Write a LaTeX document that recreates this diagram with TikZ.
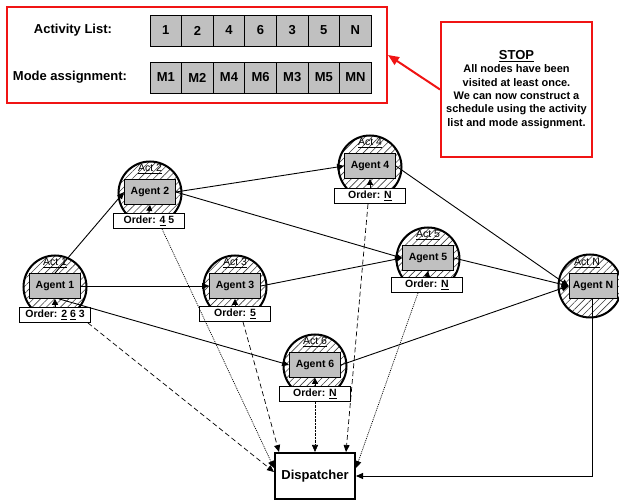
\documentclass[tikz,border=0pt]{standalone}
\usepackage{fontspec}
\setmainfont{Liberation Sans}
\usetikzlibrary{arrows.meta,patterns.meta}
\definecolor{agentgray}{RGB}{192,192,192}
\definecolor{stopred}{RGB}{240,20,20}
\begin{document}
\begin{tikzpicture}[x=1pt,y=-1pt,
  agent/.style={draw, fill=agentgray, minimum width=51pt, minimum height=25pt, inner sep=0pt, line width=0.8pt, font=\bfseries\fontsize{10.5}{12}\selectfont},
  orderbox/.style={draw, fill=white, minimum width=71pt, minimum height=15pt, inner sep=0pt, line width=0.8pt, font=\bfseries\fontsize{10.5}{12}\selectfont},
  actcirc/.style={circle, draw, line width=2pt, minimum size=63pt, inner sep=0pt, pattern={Lines[angle=45,distance=5pt,line width=0.6pt]}, pattern color=black!75},
  actlbl/.style={inner sep=0pt, font=\fontsize{10.5}{12}\selectfont},
  cell/.style={draw, fill=agentgray, minimum width=31.6pt, minimum height=31pt, inner sep=0pt, line width=0.8pt, font=\bfseries\fontsize{13}{15}\selectfont},
  toplbl/.style={inner sep=0pt, font=\bfseries\fontsize{13}{15}\selectfont},
  conn/.style={line width=0.9pt, -{Triangle[length=7pt,width=6pt]}},
  dashconn/.style={line width=0.7pt, dash pattern=on 5pt off 3pt, -{Triangle[length=7pt,width=6pt]}},
  dotconn/.style={line width=0.7pt, dash pattern=on 1pt off 1pt, -{Triangle[length=7pt,width=6pt]}},
  ordarrow/.style={line width=0.8pt, -{Triangle[length=6pt,width=6pt]}}
]
\useasboundingbox (0,0) rectangle (619,502);

% top panel
\node[draw=stopred, line width=2pt, minimum width=380pt, minimum height=96pt, inner sep=0pt] (top) at (197,55) {};
\node[toplbl] (lblact) at (73,30) {Activity List:};
\node[toplbl] (lblmode) at (70,77) {Mode assignment:};
\foreach \t [count=\i from 0] in {1,2,4,6,3,5,N} {
  \node[cell] (al\i) at ({150+31.6*(\i+0.5)},30.5) {\t};
}
\foreach \t [count=\i from 0] in {M1,M2,M4,M6,M3,M5,MN} {
  \node[cell] (ma\i) at ({150+31.6*(\i+0.5)},77.5) {\t};
}

% stop box
\node[draw=stopred, line width=2pt, fill=white, minimum width=151pt, minimum height=135pt, inner sep=0pt, align=center,
  font=\bfseries\fontsize{11}{13.3}\selectfont] (stop) at (516.5,89.5)
  {{\fontsize{13}{15}\selectfont\underline{STOP}}\\All nodes have been\\visited at least once.\\We can now construct a\\schedule using the activity\\list and mode assignment.};
\draw[stopred, line width=2pt, -{Triangle[length=11pt,width=9pt]}] (stop.west) -- (top.east);

% activity circles
\node[actcirc] (c1) at (55,287) {};
\node[actcirc] (c2) at (150,193) {};
\node[actcirc] (c3) at (235,287) {};
\node[actcirc] (c4) at (370,167) {};
\node[actcirc] (c5) at (428,259) {};
\node[actcirc] (c6) at (315,366) {};
\node[actcirc] (cN) at (590,286) {};

\node[actlbl] (l1) at (55,263) {\underline{Act 1}};
\node[actlbl] (l2) at (150,169) {\underline{Act 2}};
\node[actlbl] (l3) at (235,263) {\underline{Act 3}};
\node[actlbl] (l4) at (370,143) {\underline{Act 4}};
\node[actlbl] (l5) at (428,235) {\underline{Act 5}};
\node[actlbl] (l6) at (315,342) {\underline{Act 6}};
\node[actlbl] (lN) at (587,263) {\underline{Act N}};

\node[agent] (a1) at (55,286) {Agent 1};
\node[agent] (a2) at (150,192) {Agent 2};
\node[agent] (a3) at (235,286) {Agent 3};
\node[agent] (a4) at (370,166) {Agent 4};
\node[agent] (a5) at (428,258) {Agent 5};
\node[agent] (a6) at (315,365) {Agent 6};
\node[agent, minimum width=48pt] (aN) at (593,286) {Agent N};

\node[orderbox] (o1) at (55,315) {Order: \underline{2} \underline{6} 3};
\node[orderbox] (o2) at (149,221) {Order: \underline{4} 5};
\node[orderbox] (o3) at (235,314) {Order: \underline{5}};
\node[orderbox] (o4) at (370,196) {Order: \underline{N}};
\node[orderbox] (o5) at (427,285) {Order: \underline{N}};
\node[orderbox] (o6) at (315,394) {Order: \underline{N}};

% dispatcher
\node[draw, line width=2pt, fill=white, minimum width=80pt, minimum height=46pt, inner sep=0pt,
  font=\bfseries\fontsize{13}{15}\selectfont] (disp) at (315,476) {Dispatcher};

% order arrows
\foreach \n in {1,...,6} { \draw[ordarrow] (o\n.north) -- (a\n.south); }

% solid connectors
\draw[conn] (a1.north) -- (a2.west);
\draw[conn] (a1.east) -- (a3.west);
\draw[conn] ([xshift=4pt]a1.south) -- (a6.west);
\draw[conn] (a2.east) -- (a4.west);
\draw[conn] (a2.east) -- (a5.west);
\draw[conn] (a3.east) -- (a5.west);
\draw[conn] (a4.east) -- (aN.west);
\draw[conn] (a5.east) -- (aN.west);
\draw[conn] (a6.east) -- (aN.west);
\draw[conn] ([xshift=-1pt]aN.south) |- (disp.east);

% to dispatcher
\draw[dashconn] ([xshift=-3pt]o1.south east) -- ([yshift=4pt]disp.west);
\draw[dotconn] ([xshift=13pt]o2.south) -- ([yshift=8pt]disp.west);
\draw[dashconn] ([xshift=8pt]o3.south) -- ([xshift=5pt]disp.north west);
\draw[dotconn, dash pattern=on 0.8pt off 0.6pt] (o6.south) -- (disp.north);
\draw[dashconn] ([xshift=-2pt]o4.south) -- ([xshift=-10pt]disp.north east);
\draw[dotconn] ([xshift=-9pt]o5.south) -- ([yshift=8pt]disp.east);
\end{tikzpicture}
\end{document}
